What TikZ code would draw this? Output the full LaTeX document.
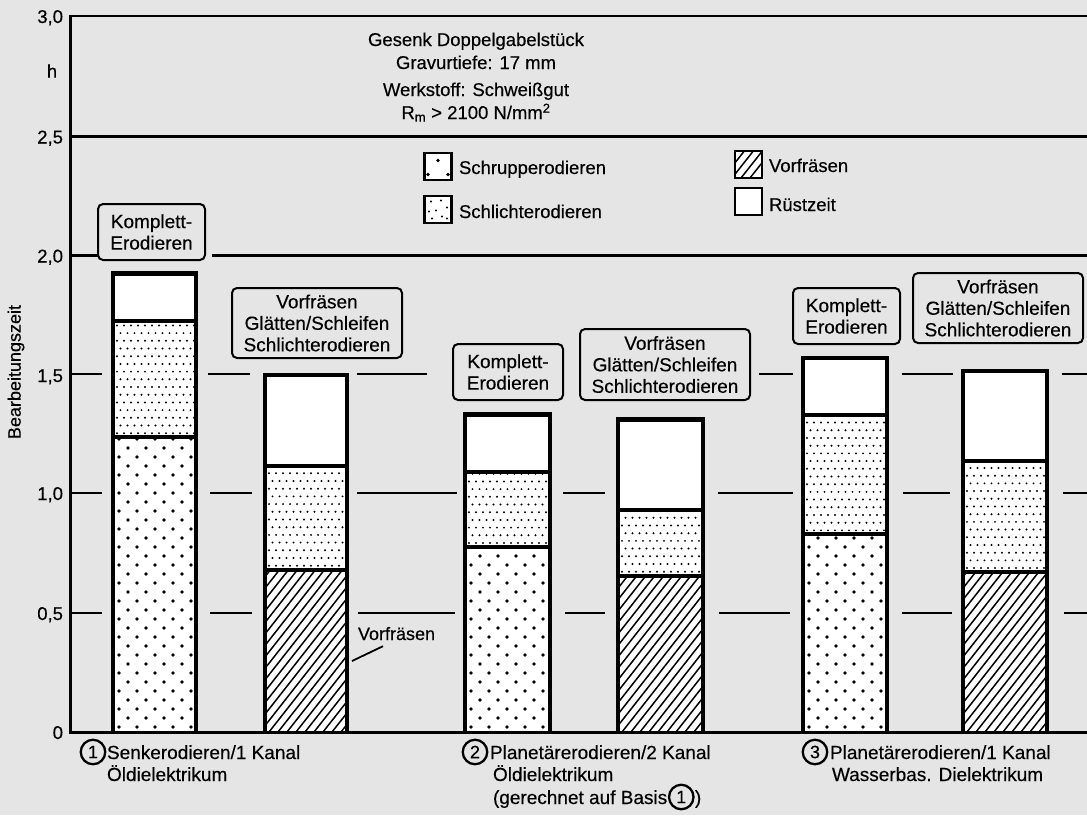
\documentclass[tikz,border=0pt]{standalone}
\usepackage{fontspec}
\setmainfont{Liberation Sans}[FakeBold=0.4]
\definecolor{bg}{gray}{0.9}
\tikzset{
  every node/.style={inner sep=0pt, outer sep=0pt},
  gridline/.style={line width=2pt},
  frameline/.style={line width=2.6pt},
  axisline/.style={line width=3pt},
  lblbox/.style={draw, line width=2pt, rounded corners=5pt, fill=bg, align=center, font=\fontsize{19}{21.5}\selectfont},
  tick/.style={anchor=base east, font=\fontsize{18.5}{20}\selectfont},
  txt/.style={anchor=base west, font=\fontsize{19}{21}\selectfont},
  ctxt/.style={anchor=base, font=\fontsize{18.5}{21}\selectfont},
  numc/.style={draw, circle, line width=2.3pt, minimum size=24.5pt, inner sep=0pt, font=\fontsize{18}{18}\selectfont},
  barline/.style={line width=4.6pt, line join=miter},
  divline/.style={line width=4pt},
  legbox/.style={draw, line width=2.6pt, minimum size=27pt, fill=white},
}
\newcommand\gridseg[3]{\draw[gridline] (#2,{732-238.7*#1}) -- (#3,{732-238.7*#1});}
\newcommand\segSchrupp[4]{%
  \begin{scope}
    \clip (#1,#3) rectangle (#2,#4);
    \foreach \ri in {0,...,36}{
      \pgfmathsetmacro\yy{#4-5-9*\ri}
      \pgfmathsetmacro\xo{#1+6+9*mod(\ri,2)}
      \foreach \ci in {0,...,4}{
        \fill ({\xo+18*\ci},\yy) circle (1.9pt);
      }
    }
  \end{scope}}
\newcommand\segSchlicht[4]{%
  \begin{scope}
    \clip (#1,#3) rectangle (#2,#4);
    \foreach \ri in {0,...,18}{
      \pgfmathsetmacro\yy{#4-4-7.7*\ri}
      \pgfmathsetmacro\xo{#1+4+3.5*mod(\ri,2)}
      \foreach \ci in {0,...,12}{
        \fill ({\xo+7*\ci},\yy) circle (1.1pt);
      }
    }
  \end{scope}}
\newcommand\segHatch[4]{%
  \begin{scope}
    \clip (#1,#3) rectangle (#2,#4);
    \foreach \k in {0,...,27}{
      \draw[line width=1.5pt] ({#1-140+9*\k},#4) -- ++(220,-280);
    }
  \end{scope}}
\newcommand\drawbar[6]{%
  \pgfmathsetmacro\ya{732-238.7*#4}
  \pgfmathsetmacro\yb{732-238.7*#5}
  \pgfmathsetmacro\yc{732-238.7*#6}
  \fill[white] (#1,732) rectangle (#2,\yc);
  \csname seg#3\endcsname{#1}{#2}{\ya}{732}
  \segSchlicht{#1}{#2}{\yb}{\ya}
  \draw[divline] (#1,\ya) -- (#2,\ya);
  \draw[divline] (#1,\yb) -- (#2,\yb);
  \draw[barline] (#1,732) -- (#1,\yc) -- (#2,\yc) -- (#2,732);
}
\begin{document}
\begin{tikzpicture}[x=1pt,y=-1pt]
\fill[bg] (0,0) rectangle (1087,815);
\useasboundingbox (0,0) rectangle (1087,815);

% frame lines
\draw[frameline] (70,16) -- (1087,16);
\draw[frameline] (70,136.6) -- (1087,136.6);
\draw[frameline] (70,255.6) -- (98,255.6);
\draw[frameline] (212,255.6) -- (1087,255.6);

% dashed grid
\gridseg{1.5}{70}{102}\gridseg{1.5}{208}{250}\gridseg{1.5}{357}{427}
\gridseg{1.5}{759}{793}\gridseg{1.5}{902}{953}\gridseg{1.5}{1062}{1087}
\gridseg{1.0}{70}{102}\gridseg{1.0}{210}{252}\gridseg{1.0}{357}{457}
\gridseg{1.0}{563}{605}\gridseg{1.0}{718}{793}\gridseg{1.0}{903}{950}\gridseg{1.0}{1063}{1087}
\gridseg{0.5}{70}{102}\gridseg{0.5}{210}{252}\gridseg{0.5}{358}{455}
\gridseg{0.5}{565}{605}\gridseg{0.5}{719}{790}\gridseg{0.5}{902}{952}\gridseg{0.5}{1064}{1087}

% bars
\drawbar{113}{196}{Schrupp}{1.235}{1.72}{1.92}
\drawbar{265}{347}{Hatch}{0.68}{1.115}{1.495}
\drawbar{465}{550}{Schrupp}{0.775}{1.09}{1.33}
\drawbar{618}{703}{Hatch}{0.655}{0.93}{1.31}
\drawbar{803}{887}{Schrupp}{0.828}{1.328}{1.567}
\drawbar{963}{1047}{Hatch}{0.67}{1.135}{1.513}

% axes
\draw[axisline] (70,14.5) -- (70,733.5);
\draw[axisline] (68.5,732) -- (1087,732);

% tick labels
\node[tick] (t30) at (63,23) {3,0};
\node[font=\fontsize{18.5}{20}\selectfont] (th) at (52,71) {h};
\node[tick] (t25) at (63,143.5) {2,5};
\node[tick] (t20) at (63,262.5) {2,0};
\node[tick] (t15) at (63,382) {1,5};
\node[tick] (t10) at (63,500) {1,0};
\node[tick] (t05) at (63,620) {0,5};
\node[tick] (t00) at (63,739) {0};
\node[rotate=90, font=\fontsize{18}{20}\selectfont] (ylab) at (16,372) {Bearbeitungszeit};

% header text
\node[ctxt] (h1) at (476,46) {Gesenk Doppelgabelstück};
\node[ctxt] (h2) at (476,69) {Gravurtiefe: 17 mm};
\node[ctxt] (h3) at (476,96) {Werkstoff: Schweißgut};
\node[ctxt] (h4) at (476,119) {R\textsubscript{m} > 2100 N/mm\textsuperscript{2}};

% legend
\node[legbox] (kS) at (438,166.5) {};
\fill ([shift={(0,-6)}]kS.center) circle (1.9pt);
\fill ([shift={(-10,8)}]kS.center) circle (1.9pt);
\fill ([shift={(10,8)}]kS.center) circle (1.9pt);
\node[txt, font=\fontsize{18.5}{20}\selectfont] (tS) at (459,174) {Schrupperodieren};
\node[legbox] (kL) at (438,209.5) {};
\foreach \dx/\dy in {-7/-8,3/-9,9/-2,-9/2,-2/1,4/7,-6/9,9/9}{
  \fill ([shift={(\dx,\dy)}]kL.center) circle (1.1pt);
}
\node[txt, font=\fontsize{18.5}{20}\selectfont] (tL) at (459,218) {Schlichterodieren};
\node[legbox] (kV) at (748.5,164.5) {};
\begin{scope}
  \clip (kV.south west) rectangle (kV.north east);
  \foreach \k in {0,...,5}{
    \draw[line width=1.5pt] ([shift={(-30+9*\k,0)}]kV.south west) -- ++(30,-38);
  }
\end{scope}
\draw[line width=2.6pt] (kV.south west) rectangle (kV.north east);
\node[txt, font=\fontsize{18.5}{20}\selectfont] (tV) at (769,172) {Vorfräsen};
\node[legbox] (kR) at (748.5,201.5) {};
\node[txt, font=\fontsize{18.5}{20}\selectfont] (tR) at (769,211) {Rüstzeit};

% bar labels
\node[lblbox, minimum width=107pt, minimum height=56pt] (L1) at (151.5,232) {Komplett-\\Erodieren};
\node[lblbox, minimum width=170pt, minimum height=70pt] (L2) at (317,323) {Vorfräsen\\Glätten/Schleifen\\Schlichterodieren};
\node[lblbox, minimum width=110pt, minimum height=56pt] (L3) at (508,372) {Komplett-\\Erodieren};
\node[lblbox, minimum width=170pt, minimum height=71pt] (L4) at (665,364.5) {Vorfräsen\\Glätten/Schleifen\\Schlichterodieren};
\node[lblbox, minimum width=107pt, minimum height=56pt] (L5) at (846.5,316) {Komplett-\\Erodieren};
\node[lblbox, minimum width=170pt, minimum height=70pt] (L6) at (998,308) {Vorfräsen\\Glätten/Schleifen\\Schlichterodieren};

% Vorfraesen annotation
\node[txt, font=\fontsize{18}{20}\selectfont] (vf) at (358,640) {Vorfräsen};
\coordinate (vfp) at (352,661);
\draw[line width=1.8pt] ([shift={(25,6)}]vf.south west) -- (vfp);

% bottom labels
\node[numc] (c1) at (93,752) {1};
\node[txt] (b1a) at (107,759) {Senkerodieren/1 Kanal};
\node[txt] (b1b) at (107,781) {Öldielektrikum};
\node[numc] (c2) at (475,752) {2};
\node[txt] (b2a) at (490,759) {Planetärerodieren/2 Kanal};
\node[txt] (b2b) at (493,781) {Öldielektrikum};
\node[txt] (b2c) at (493,804) {(gerechnet auf Basis};
\node[numc] (c4) at ([shift={(14,-7)}]b2c.base east) {1};
\node[txt] (b2d) at ([xshift=1.5pt]c4.east |- b2c.base) {)};
\node[numc] (c3) at (815,752) {3};
\node[txt] (b3a) at (830,759) {Planetärerodieren/1 Kanal};
\node[txt] (b3b) at (832,781) {Wasserbas. Dielektrikum};
\end{tikzpicture}
\end{document}
